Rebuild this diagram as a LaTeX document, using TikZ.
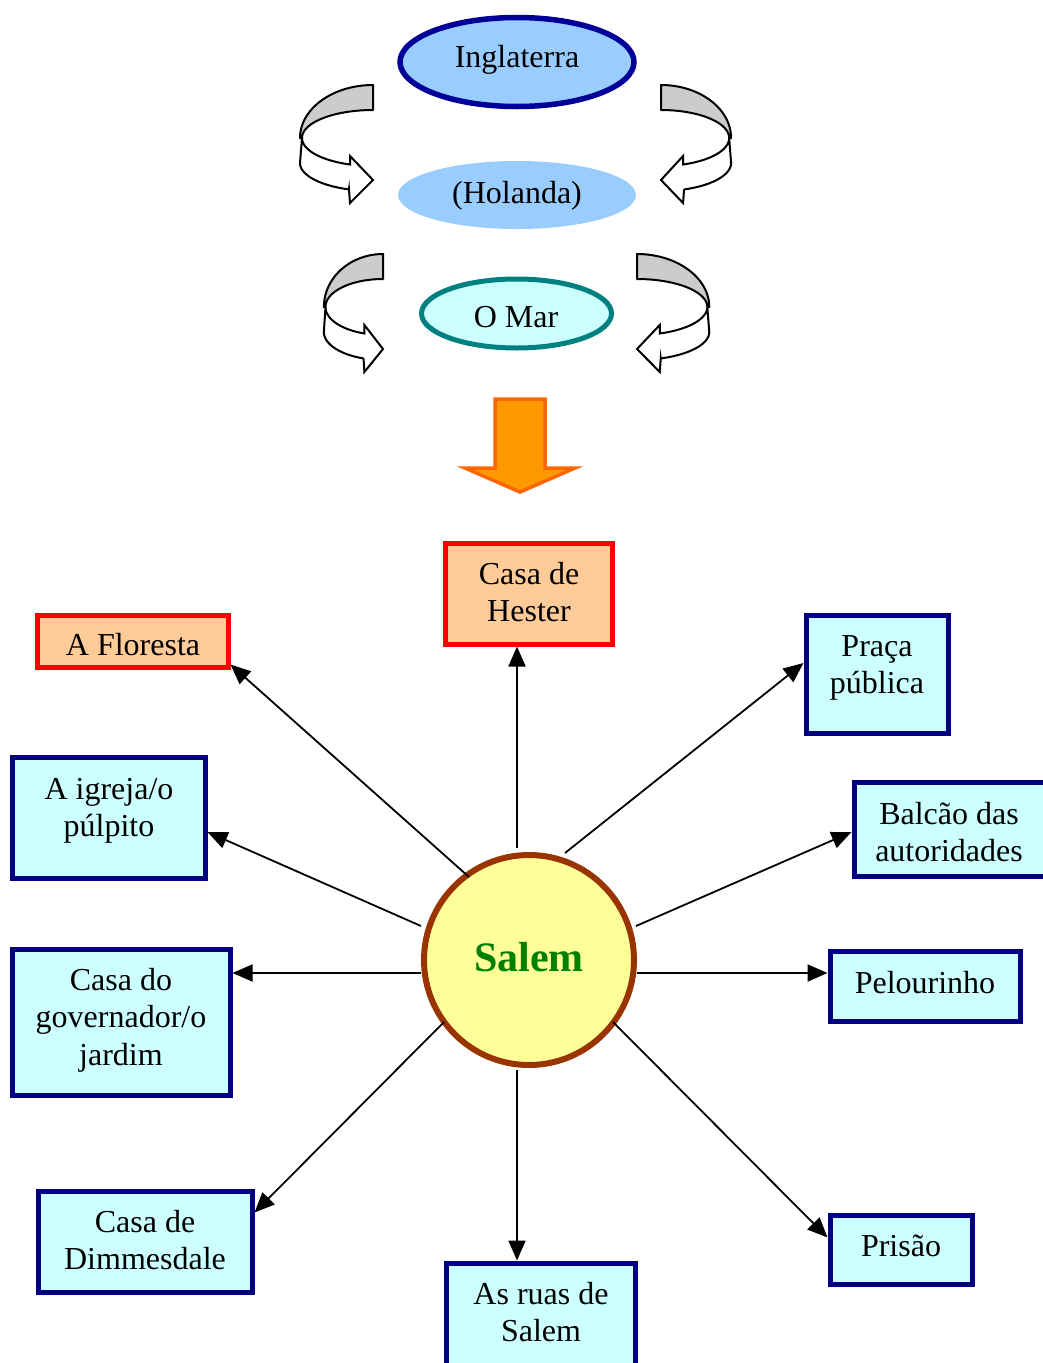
\documentclass[tikz,border=0pt]{standalone}
\usepackage{fontspec}
\setmainfont{Liberation Serif}
\usetikzlibrary{arrows.meta,shapes.geometric}

\definecolor{skyfill}{HTML}{99CCFF}
\definecolor{skyline}{HTML}{000099}
\definecolor{aquafill}{HTML}{CCFFFF}
\definecolor{tealline}{HTML}{008080}
\definecolor{navyline}{HTML}{000080}
\definecolor{peach}{HTML}{FFCC99}
\definecolor{sunfill}{HTML}{FFFF99}
\definecolor{rust}{HTML}{993300}
\definecolor{leaf}{HTML}{008000}
\definecolor{amber}{HTML}{FF9900}
\definecolor{amberline}{HTML}{FF6600}
\definecolor{ribbongray}{HTML}{CCCCCC}

% Twisted ribbon arrow; local origin at the right end of the ribbon axis
\newcommand\ribbonarrow{%
  \draw[ribbonback]
    plot[variable=\t, domain=90:180, samples=40] ({73*cos(\t)},{53*sin(\t)})
    -- plot[variable=\t, domain=180:90, samples=40] ({71*cos(\t)},{28*sin(\t)})
    -- cycle;
  \draw[ribbonfront]
    plot[variable=\t, domain=180:251.1, samples=40] ({71*cos(\t)},{28*sin(\t)})
    -- (-23,-18) -- (0,-42) -- (-23,-65) -- (-24,-51.4)
    -- plot[variable=\t, domain=250.8:180, samples=40] ({73*cos(\t)},{-25+28*sin(\t)})
    -- cycle;
}

\begin{document}
\begin{tikzpicture}[x=1pt, y=1pt,
  txt/.style={font=\fontsize{32}{37.5}\selectfont, align=center, inner sep=0pt},
  place/.style={draw=navyline, fill=aquafill, line width=5pt, inner sep=0pt},
  warm/.style={draw=red, fill=peach, line width=5pt, inner sep=0pt},
  link/.style={line width=1.8pt, -{Triangle[length=20pt, width=17pt]}},
  ribbonback/.style={draw=black, fill=ribbongray, line width=2pt, line join=round},
  ribbonfront/.style={draw=black, fill=white, line width=2pt, line join=miter},
]
\useasboundingbox (0,0) rectangle (1042,-1363);

% ---- journey at the top ----
\node[ellipse, draw=skyline, fill=skyfill, line width=5.5pt,
      minimum width=234pt, minimum height=89pt] (ingl) at (517,-62) {};
\node[txt] (ingl-t) at (517,-60) {Inglaterra};

\node[ellipse, fill=skyfill, minimum width=238pt, minimum height=68pt] (hol) at (517,-195) {};
\node[txt] (hol-t) at (517,-196) {(Holanda)};

\node[ellipse, draw=tealline, fill=aquafill, line width=5pt,
      minimum width=190pt, minimum height=69pt] (mar) at (516.5,-313.5) {};
\node[txt] (mar-t) at (516,-317) {O Mar};

\begin{scope}[shift={(373,-138)}] \ribbonarrow \end{scope}
\begin{scope}[shift={(661,-138)}, xscale=-0.96] \ribbonarrow \end{scope}
\begin{scope}[shift={(383,-307)}, xscale=0.81] \ribbonarrow \end{scope}
\begin{scope}[shift={(637,-307)}, xscale=-0.99] \ribbonarrow \end{scope}

% block arrow down to Salem
\draw[fill=amber, draw=amberline, line width=3.5pt, line join=miter]
  (495,-399) -- (545,-399) -- (545,-468) -- (575,-468) -- (520,-492)
  -- (465,-468) -- (495,-468) -- cycle;

% ---- Salem and its places ----
\node[circle, draw=rust, fill=sunfill, line width=6pt, minimum size=210pt, inner sep=0pt] (salem) at (529,-960) {};
\node[font=\fontsize{42}{48}\selectfont\bfseries, text=leaf, inner sep=0pt] (salem-t) at (529,-957) {Salem};

\node[warm, minimum width=167pt, minimum height=101pt] (hester) at (528.5,-593.5) {};
\node[txt] (hester-t) at (529,-592) {Casa de\\Hester};

\node[warm, minimum width=191pt, minimum height=52pt] (floresta) at (132.5,-641) {};
\node[txt] (floresta-t) at (133,-645) {A Floresta};

\node[place, minimum width=142pt, minimum height=118pt] (praca) at (877,-674) {};
\node[txt] (praca-t) at (877,-668) {Praça\\pública};

\node[place, minimum width=193pt, minimum height=121pt] (igreja) at (108.5,-817.5) {};
\node[txt] (igreja-t) at (109,-811) {A igreja/o\\púlpito};

\node[place, minimum width=194pt, minimum height=94pt] (balcao) at (951,-829) {};
\node[txt] (balcao-t) at (949,-832) {Balcão das\\autoridades};

\node[place, minimum width=218pt, minimum height=146pt] (governador) at (121,-1022) {};
\node[txt] (governador-t) at (121,-1020) {Casa do\\governador/o\\jardim};

\node[place, minimum width=190pt, minimum height=70pt] (pelourinho) at (925,-986) {};
\node[txt] (pelourinho-t) at (925,-983) {Pelourinho};

\node[place, minimum width=214pt, minimum height=101pt] (dimmesdale) at (145,-1241.5) {};
\node[txt] (dimmesdale-t) at (145,-1240) {Casa de\\Dimmesdale};

\node[place, minimum width=189pt, minimum height=110pt] (ruas) at (540.5,-1318) {};
\node[txt] (ruas-t) at (541,-1312) {As ruas de\\Salem};

\node[place, minimum width=142pt, minimum height=69pt] (prisao) at (901,-1249.5) {};
\node[txt] (prisao-t) at (901,-1246) {Prisão};

% connector starts around the circle
\coordinate (s1) at (469,-877);
\coordinate (s2) at (517,-848);
\coordinate (s3) at (565,-853);
\coordinate (s4) at (421,-926);
\coordinate (s5) at (636,-926);
\coordinate (s6) at (421,-973);
\coordinate (s7) at (637,-973);
\coordinate (s8) at (444,-1022);
\coordinate (s9) at (517,-1070);
\coordinate (s10) at (613,-1022);

\draw[link] (s1) -- ([yshift=5pt]floresta.south east);
\draw[link] (s2) -- (hester.south -| s2);
\draw[link] (s3) -- ([yshift=11pt]praca.west);
\draw[link] (s4) -- ([yshift=-14.5pt]igreja.east);
\draw[link] (s5) -- ([yshift=-3pt]balcao.west);
\draw[link] (s6) -- (governador.east |- s6);
\draw[link] (s7) -- (pelourinho.west |- s7);
\draw[link] (s8) -- ([yshift=29pt]dimmesdale.east);
\draw[link] (s9) -- (ruas.north -| s9);
\draw[link] (s10) -- ([yshift=12pt]prisao.west);
\end{tikzpicture}
\end{document}
